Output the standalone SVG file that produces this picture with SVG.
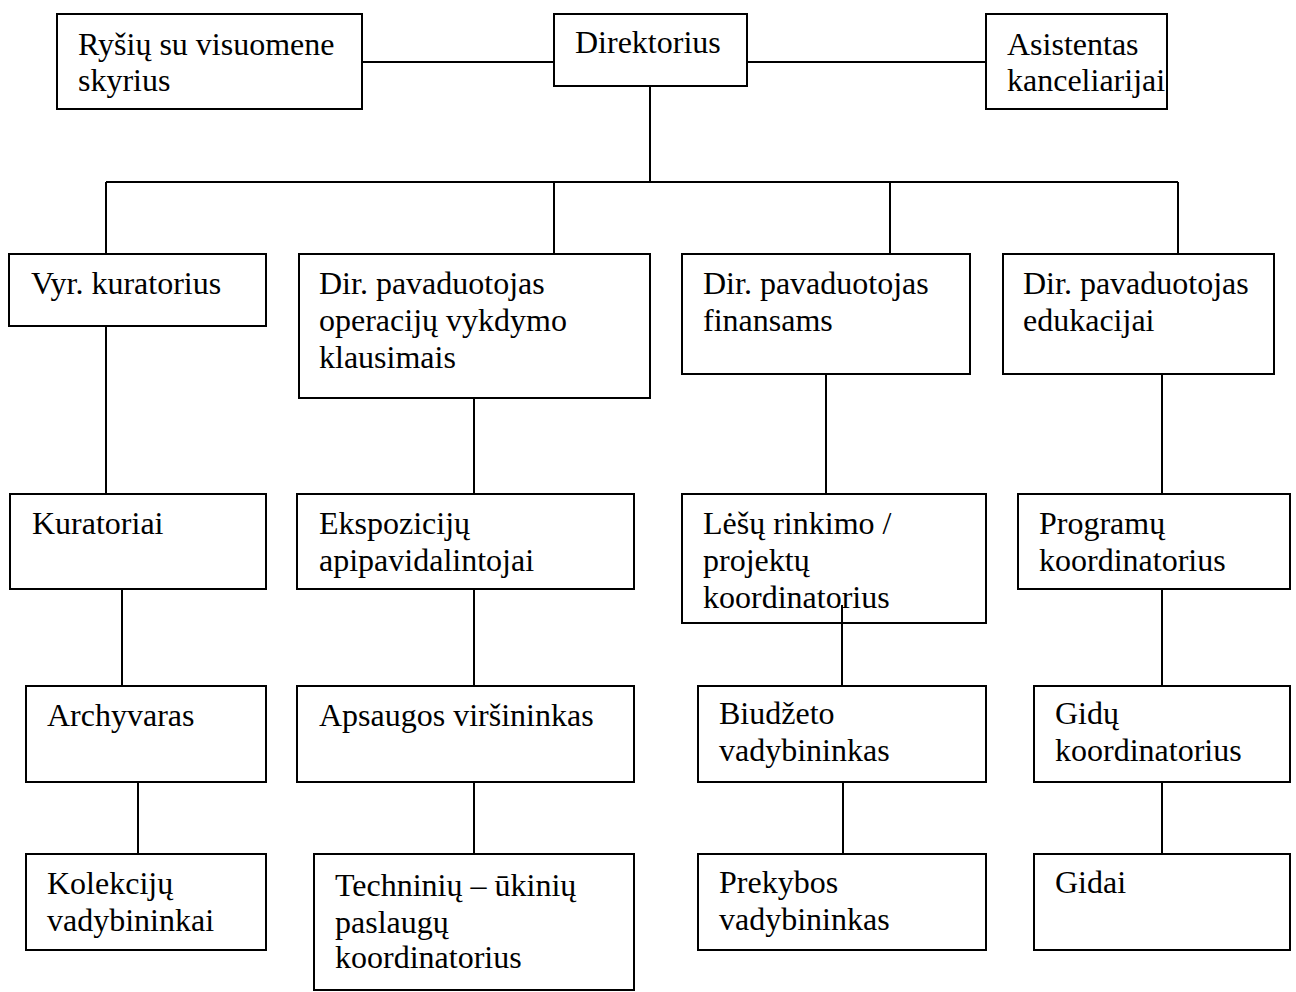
<svg xmlns="http://www.w3.org/2000/svg" width="1296" height="992" viewBox="0 0 1296 992">
<style>
rect{fill:#fff;stroke:#000;stroke-width:2}
line{stroke:#000;stroke-width:2}
text{font-family:"Liberation Serif","Times New Roman",serif;font-size:32px;fill:#000}
</style>
<rect x="0" y="0" width="1296" height="992" style="stroke:none"/>
<g id="connectors">
<line x1="362" y1="62" x2="554" y2="62"/>
<line x1="747" y1="62" x2="986" y2="62"/>
<line x1="650" y1="86" x2="650" y2="182"/>
<line x1="106" y1="182" x2="1178" y2="182"/>
<line x1="106" y1="182" x2="106" y2="254"/>
<line x1="554" y1="182" x2="554" y2="254"/>
<line x1="890" y1="182" x2="890" y2="254"/>
<line x1="1178" y1="182" x2="1178" y2="254"/>
<line x1="106" y1="326" x2="106" y2="494"/>
<line x1="474" y1="398" x2="474" y2="494"/>
<line x1="826" y1="374" x2="826" y2="494"/>
<line x1="1162" y1="374" x2="1162" y2="494"/>
<line x1="122" y1="589" x2="122" y2="686"/>
<line x1="474" y1="589" x2="474" y2="686"/>
<line x1="1162" y1="589" x2="1162" y2="686"/>
<line x1="138" y1="782" x2="138" y2="854"/>
<line x1="474" y1="782" x2="474" y2="854"/>
<line x1="843" y1="782" x2="843" y2="854"/>
<line x1="1162" y1="782" x2="1162" y2="854"/>
</g>
<g id="rysiu"><rect x="57" y="14" width="305" height="95"/><text x="78" y="55">Ryšių su visuomene</text><text x="78" y="91">skyrius</text></g>
<g id="direktorius"><rect x="554" y="14" width="193" height="72"/><text x="575" y="53">Direktorius</text></g>
<g id="asistentas"><rect x="986" y="14" width="181" height="95"/><text x="1007" y="55">Asistentas</text><text x="1007" y="91">kanceliarijai</text></g>
<g id="vyr"><rect x="9" y="254" width="257" height="72"/><text x="31" y="294">Vyr. kuratorius</text></g>
<g id="dirop"><rect x="299" y="254" width="351" height="144"/><text x="319" y="294">Dir. pavaduotojas</text><text x="319" y="331">operacijų vykdymo</text><text x="319" y="368">klausimais</text></g>
<g id="dirfin"><rect x="682" y="254" width="288" height="120"/><text x="703" y="294">Dir. pavaduotojas</text><text x="703" y="331">finansams</text></g>
<g id="diredu"><rect x="1003" y="254" width="271" height="120"/><text x="1023" y="294">Dir. pavaduotojas</text><text x="1023" y="331">edukacijai</text></g>
<g id="kuratoriai"><rect x="10" y="494" width="256" height="95"/><text x="32" y="534">Kuratoriai</text></g>
<g id="ekspoziciju"><rect x="297" y="494" width="337" height="95"/><text x="319" y="534">Ekspozicijų</text><text x="319" y="571">apipavidalintojai</text></g>
<g id="lesu"><rect x="682" y="494" width="304" height="129"/><text x="703" y="534">Lėšų rinkimo /</text><text x="703" y="571">projektų</text><text x="703" y="608">koordinatorius</text></g>
<g id="programu"><rect x="1018" y="494" width="272" height="95"/><text x="1039" y="534">Programų</text><text x="1039" y="571">koordinatorius</text></g>
<line x1="842" y1="605" x2="842" y2="686"/>
<g id="archyvaras"><rect x="26" y="686" width="240" height="96"/><text x="47" y="726">Archyvaras</text></g>
<g id="apsaugos"><rect x="297" y="686" width="337" height="96"/><text x="319" y="726">Apsaugos viršininkas</text></g>
<g id="biudzeto"><rect x="698" y="686" width="288" height="96"/><text x="719" y="724">Biudžeto</text><text x="719" y="761">vadybininkas</text></g>
<g id="gidu"><rect x="1034" y="686" width="256" height="96"/><text x="1055" y="724">Gidų</text><text x="1055" y="761">koordinatorius</text></g>
<g id="kolekciju"><rect x="26" y="854" width="240" height="96"/><text x="47" y="894">Kolekcijų</text><text x="47" y="931">vadybininkai</text></g>
<g id="techniniu"><rect x="314" y="854" width="320" height="136"/><text x="335" y="896">Techninių – ūkinių</text><text x="335" y="933">paslaugų</text><text x="335" y="968">koordinatorius</text></g>
<g id="prekybos"><rect x="698" y="854" width="288" height="96"/><text x="719" y="893">Prekybos</text><text x="719" y="930">vadybininkas</text></g>
<g id="gidai"><rect x="1034" y="854" width="256" height="96"/><text x="1055" y="893">Gidai</text></g>
</svg>
